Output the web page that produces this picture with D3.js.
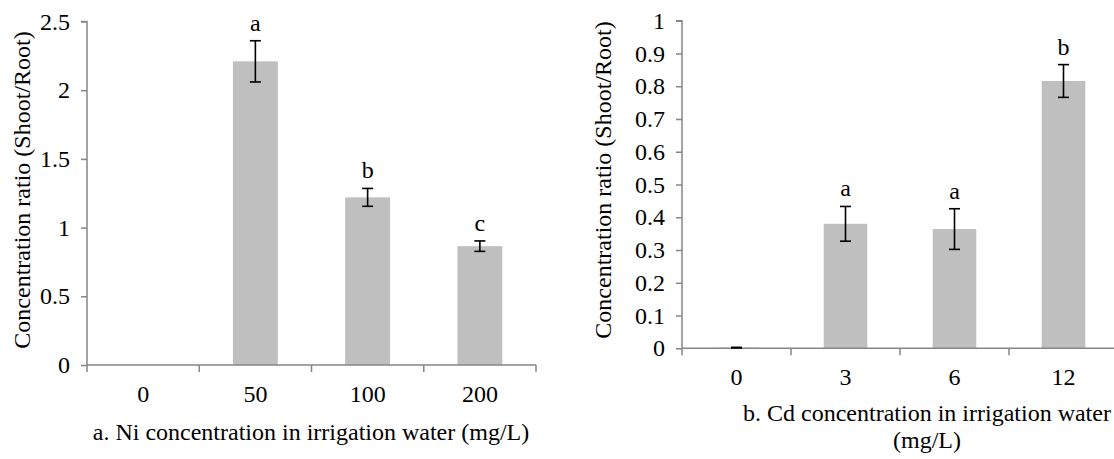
<!DOCTYPE html>
<html>
<head>
<meta charset="utf-8">
<script src="https://cdn.jsdelivr.net/npm/d3@7/dist/d3.min.js"></script>
<style>
  html, body { margin: 0; padding: 0; background: #fff; }
  svg { display: block; }
  text { font-family: "Liberation Serif", "Times New Roman", serif; fill: #000; }
</style>
</head>
<body>
<svg id="chart" width="1114" height="459"></svg>
<script>
// Panel a: Ni
const niCategories = ["0", "50", "100", "200"];
const niValues = [0, 2.21, 1.22, 0.865];
const niErrors = [0, 0.15, 0.065, 0.038];
const niLetters = ["", "a", "b", "c"];
const niTicks = [0, 0.5, 1, 1.5, 2, 2.5];

// Panel b: Cd
const cdCategories = ["0", "3", "6", "12"];
const cdValues = [0.002, 0.38, 0.364, 0.816];
const cdErrors = [0.001, 0.053, 0.062, 0.05];
const cdLetters = ["", "a", "a", "b"];
const cdTicks = [0, 0.1, 0.2, 0.3, 0.4, 0.5, 0.6, 0.7, 0.8, 0.9, 1];

const svg = d3.select("#chart");
const AXIS = "#868686";
const BAR = "#BFBFBF";
const FS = 24;
const FF = "Liberation Serif";

function panel(opts) {
  const g = svg.append("g").attr("font-family", FF);
  const x = d3.scaleBand().domain(opts.categories).range([opts.x0, opts.x1]).paddingInner(0.6).paddingOuter(0.3);
  const y = d3.scaleLinear().domain([0, opts.ymax]).range([opts.y0, opts.y1]);
  const band = (opts.x1 - opts.x0) / opts.categories.length;

  // bars
  g.selectAll("rect.bar").data(opts.values).enter().append("rect")
    .attr("x", (d, i) => x(opts.categories[i]))
    .attr("width", x.bandwidth())
    .attr("y", d => y(d))
    .attr("height", d => y(0) - y(d))
    .attr("fill", BAR);

  // y axis
  const ya = g.append("g").attr("transform", `translate(${opts.x0},0)`)
    .call(d3.axisLeft(y).tickValues(opts.ticks).tickSize(6).tickPadding(11).tickFormat(d3.format("")));
  ya.attr("font-family", FF).attr("font-size", FS);
  ya.select(".domain").attr("stroke", AXIS).attr("stroke-width", 1.5).attr("d", `M-6,${opts.y1}H0V${opts.y0}`);
  ya.selectAll(".tick line").attr("stroke", AXIS).attr("stroke-width", 1.5);
  ya.selectAll(".tick text").attr("font-size", FS).attr("font-family", FF).attr("fill", "#000");

  // x axis
  const xa = g.append("g").attr("transform", `translate(0,${opts.y0})`)
    .call(d3.axisBottom(x).tickSize(0).tickPadding(opts.xPad));
  xa.attr("font-family", FF).attr("font-size", FS);
  xa.select(".domain").attr("stroke", AXIS).attr("stroke-width", 1.5).attr("d", `M${opts.x0},0H${opts.x1}`);
  xa.selectAll(".tick text").attr("font-size", FS).attr("font-family", FF).attr("fill", "#000");
  // boundary ticks between categories
  const bounds = d3.range(opts.categories.length + 1).map(i => opts.x0 + i * band);
  xa.selectAll("line.bt").data(bounds).enter().append("line")
    .attr("x1", d => d).attr("x2", d => d).attr("y1", 0).attr("y2", 7)
    .attr("stroke", AXIS).attr("stroke-width", 1.5);

  // error bars
  const cap = 5.5;
  opts.values.forEach((v, i) => {
    if (v === 0) return;
    const cx = x(opts.categories[i]) + x.bandwidth() / 2;
    const e = opts.errors[i];
    const yt = y(v + e), yb = y(v - e);
    const eg = g.append("g").attr("stroke", "#000").attr("stroke-width", 1.6);
    eg.append("line").attr("x1", cx).attr("x2", cx).attr("y1", yt).attr("y2", yb);
    eg.append("line").attr("x1", cx - cap).attr("x2", cx + cap).attr("y1", yt).attr("y2", yt);
    eg.append("line").attr("x1", cx - cap).attr("x2", cx + cap).attr("y1", yb).attr("y2", yb);
    if (opts.letters[i]) {
      g.append("text").attr("x", cx).attr("y", yt - 10).attr("text-anchor", "middle")
        .attr("font-size", FS).text(opts.letters[i]);
    }
  });

  // y title
  g.append("text")
    .attr("transform", `translate(${opts.ytX},${opts.ytY}) rotate(-90)`)
    .attr("text-anchor", "middle").attr("font-size", FS)
    .text("Concentration ratio (Shoot/Root)");

  // x title
  const t = g.append("text").attr("text-anchor", "middle").attr("font-size", FS);
  opts.xTitle.forEach((line, i) => {
    t.append("tspan").attr("x", opts.xtX).attr("y", opts.xtY + i * 27).text(line);
  });
}

panel({
  categories: niCategories, values: niValues, errors: niErrors, letters: niLetters, ticks: niTicks,
  ymax: 2.5, x0: 87, x1: 536, y0: 365, y1: 21.5, xPad: 20,
  ytX: 30, ytY: 190,
  xTitle: ["a. Ni concentration in irrigation water (mg/L)"], xtX: 311, xtY: 440
});

panel({
  categories: cdCategories, values: cdValues, errors: cdErrors, letters: cdLetters, ticks: cdTicks,
  ymax: 1, x0: 682, x1: 1118, y0: 348.3, y1: 20.7, xPad: 20,
  ytX: 611, ytY: 180,
  xTitle: ["b. Cd concentration in irrigation water", "(mg/L)"], xtX: 927, xtY: 421
});
</script>
</body>
</html>
